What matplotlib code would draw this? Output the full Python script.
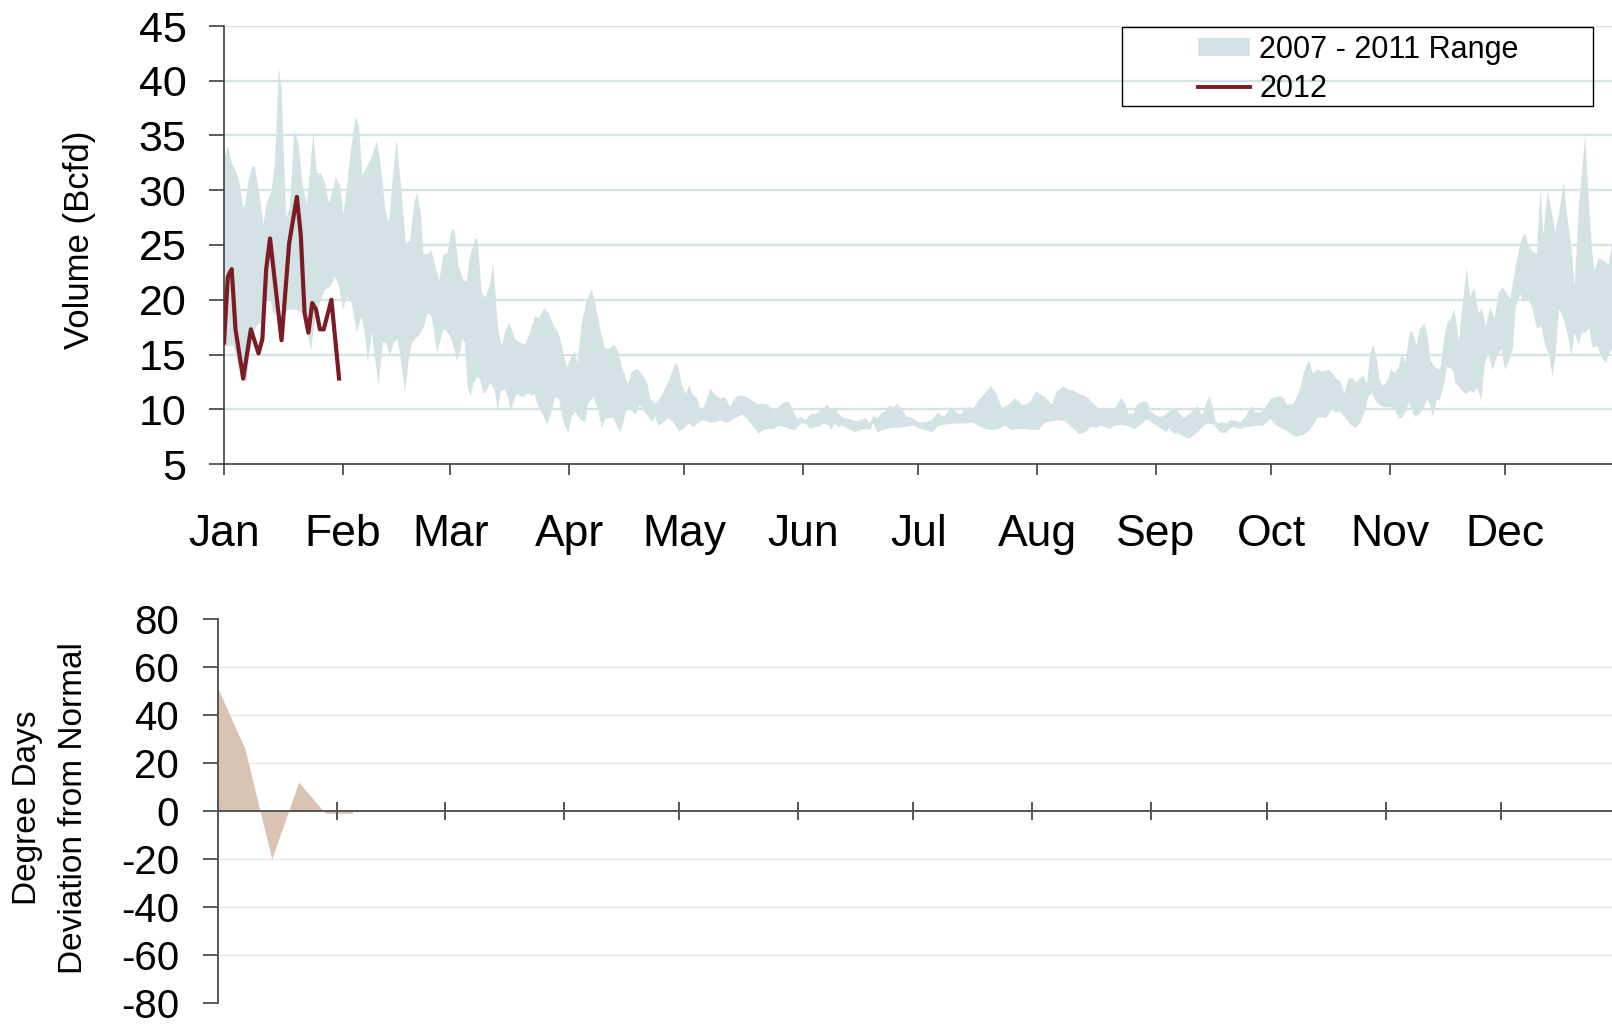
import numpy as np
import matplotlib.pyplot as plt
from matplotlib.patches import Patch, Rectangle
from matplotlib.lines import Line2D

plt.rcParams['font.family'] = ['Liberation Sans', 'DejaVu Sans']
plt.rcParams['axes.unicode_minus'] = False

months = ['Jan', 'Feb', 'Mar', 'Apr', 'May', 'Jun',
          'Jul', 'Aug', 'Sep', 'Oct', 'Nov', 'Dec']
month_start = [0, 31, 59, 90, 120, 151, 181, 212, 243, 273, 304, 334]

# 2007 - 2011 range, upper edge: (day of year, Bcfd)
range_high = np.array([
    (0, 33.0), (1.1, 34.0), (2.0, 32.5), (3.3, 31.6), (4.2, 30.4), (5.0, 28.4), (5.5, 28.7),
    (6.3, 30.7), (7.4, 32.2), (8.1, 32.1), (9.0, 30.1), (10.3, 26.9), (11.1, 28.8), (12.4, 29.9),
    (13.3, 32.5), (14.3, 41.2), (15.0, 39.4), (15.7, 32.2), (16.3, 27.5), (17.2, 28.4), (18.3, 35.5),
    (19.4, 34.3), (20.4, 30.7), (21.6, 28.7), (23.3, 35.2), (24.2, 31.6), (25.3, 31.5), (26.3, 30.7),
    (27.4, 28.8), (28.3, 29.9), (29.1, 31.2), (30.3, 30.4), (31.1, 27.8), (32.0, 30.1), (33.1, 33.7),
    (34.3, 36.7), (35.2, 35.8), (36.1, 31.3), (37.2, 32.1), (38.5, 33.0), (39.8, 34.5), (40.7, 32.8),
    (42.0, 28.4), (43.0, 27.0), (44.2, 31.9), (45.0, 34.6), (46.3, 29.9), (47.4, 25.1), (48.5, 25.4),
    (49.7, 29.0), (50.4, 29.8), (51.4, 27.6), (52.0, 24.1), (53.3, 24.2), (54.1, 24.5), (55.0, 23.2),
    (56.1, 21.7), (57.2, 24.1), (58.2, 24.2), (59.4, 26.4), (60.1, 26.4), (61.1, 23.2), (62.4, 21.8),
    (63.3, 21.7), (64.1, 23.9), (65.5, 25.6), (66.1, 25.5), (67.2, 20.6), (68.2, 20.2), (69.4, 21.5),
    (70.2, 23.3), (70.8, 20.3), (71.5, 17.3), (72.4, 15.8), (73.3, 17.1), (74.4, 17.9), (75.9, 16.4),
    (77.2, 16.1), (78.5, 15.9), (79.8, 17.0), (81.1, 18.5), (82.0, 18.3), (83.5, 19.2), (84.6, 18.8),
    (85.9, 17.7), (87.2, 17.0), (88.1, 15.8), (89.4, 13.8), (90.2, 14.5), (91.4, 15.3), (92.2, 14.2),
    (93.3, 17.9), (94.6, 20.0), (95.9, 20.9), (96.8, 19.7), (98.1, 17.3), (99.4, 15.5), (100.7, 15.6),
    (101.8, 15.9), (102.8, 15.3), (103.7, 13.9), (105.3, 12.3), (106.3, 13.4), (107.9, 13.7),
    (109.0, 13.2), (110.3, 12.5), (111.1, 11.0), (112.4, 10.5), (113.7, 11.0), (115.0, 11.9),
    (116.3, 12.9), (117.7, 14.2), (118.3, 14.0), (119.4, 12.2), (120.4, 11.4), (121.3, 12.2),
    (122.2, 11.3), (123.3, 11.0), (124.4, 9.8), (125.5, 10.5), (126.8, 11.9), (128.1, 11.3),
    (129.4, 11.0), (130.7, 11.1), (132.0, 10.2), (133.1, 11.0), (134.6, 11.3), (136.3, 11.1),
    (137.7, 10.8), (139.0, 10.5), (140.7, 10.5), (142.0, 10.4), (143.3, 9.8), (144.6, 10.2),
    (145.9, 10.6), (147.2, 10.7), (148.1, 10.1), (149.4, 9.1), (150.3, 9.3), (151.6, 9.0),
    (152.9, 9.5), (154.2, 9.6), (155.5, 9.9), (156.3, 10.1), (157.2, 10.4), (158.1, 10.1),
    (159.4, 10.1), (160.2, 9.6), (161.5, 9.2), (163.2, 9.1), (165.0, 8.9), (166.1, 9.0),
    (167.3, 9.2), (168.4, 8.7), (169.3, 9.4), (170.2, 9.2), (171.3, 9.6), (172.8, 9.9),
    (173.5, 10.4), (174.4, 10.1), (175.4, 10.5), (176.5, 10.1), (178.0, 9.3), (179.5, 9.2),
    (181.0, 8.8), (182.8, 8.8), (184.4, 9.0), (186.1, 9.7), (187.1, 9.4), (188.0, 9.4),
    (189.6, 10.2), (190.6, 9.8), (191.9, 9.5), (193.2, 10.0), (194.1, 10.2), (195.4, 10.1),
    (196.7, 10.8), (198.3, 11.4), (200.0, 12.1), (201.1, 11.6), (202.1, 10.8), (202.8, 10.1),
    (204.5, 10.4), (206.3, 11.0), (207.1, 10.8), (208.0, 10.4), (209.3, 10.5), (210.2, 10.7),
    (211.7, 11.6), (214.1, 11.1), (215.8, 10.4), (217.1, 11.6), (218.9, 12.1), (220.2, 11.8),
    (221.5, 11.7), (222.8, 11.4), (224.1, 11.3), (225.4, 11.0), (226.7, 10.5), (228.0, 10.1),
    (228.9, 9.9), (229.7, 10.0), (231.0, 9.9), (231.9, 9.9), (232.8, 10.4), (233.9, 11.0),
    (235.0, 10.5), (235.8, 9.6), (237.1, 9.6), (238.2, 10.5), (239.6, 10.7), (240.8, 10.7),
    (241.5, 9.8), (242.8, 9.5), (244.1, 9.3), (245.4, 9.5), (246.7, 9.9), (248.0, 10.1),
    (248.9, 9.7), (250.2, 9.2), (251.5, 9.5), (252.8, 9.9), (253.8, 10.3), (255.0, 9.4),
    (255.8, 10.2), (256.9, 11.2), (257.6, 10.4), (258.4, 9.0), (259.3, 8.7), (260.2, 8.8),
    (261.5, 8.7), (262.3, 9.0), (263.7, 9.0), (265.0, 8.8), (266.3, 9.3), (267.1, 9.8),
    (268.0, 10.3), (268.9, 9.7), (270.2, 9.7), (271.5, 10.2), (272.8, 10.9), (274.1, 11.1),
    (275.4, 11.2), (276.3, 11.0), (277.1, 10.4), (278.9, 10.5), (279.7, 11.1), (280.6, 11.9),
    (281.5, 13.3), (282.8, 14.5), (283.9, 13.3), (285.0, 13.6), (286.3, 13.4), (288.0, 13.6),
    (288.9, 13.3), (290.2, 12.7), (291.0, 12.6), (292.1, 11.4), (293.0, 12.7), (294.1, 12.9),
    (295.2, 12.4), (296.3, 12.9), (297.0, 13.1), (298.0, 12.3), (298.9, 15.2), (299.7, 15.9),
    (300.6, 14.5), (301.3, 12.7), (302.2, 12.1), (303.4, 12.7), (304.3, 13.7), (305.1, 13.3),
    (306.3, 13.8), (307.1, 15.2), (308.0, 14.2), (309.1, 17.0), (309.8, 17.1), (310.9, 15.8),
    (311.9, 17.4), (313.0, 17.8), (313.8, 16.7), (314.5, 14.5), (315.8, 13.8), (317.1, 13.6),
    (318.0, 16.1), (318.9, 17.9), (319.9, 18.3), (320.8, 19.2), (322.0, 16.2), (322.9, 19.4),
    (324.0, 22.9), (324.9, 20.3), (326.0, 21.1), (327.1, 18.8), (328.0, 19.2), (329.0, 17.6),
    (330.1, 19.3), (331.3, 18.3), (332.3, 20.6), (333.3, 21.1), (334.5, 20.6), (335.3, 20.0),
    (336.7, 22.9), (338.0, 25.2), (339.1, 26.1), (340.1, 25.0), (341.2, 24.4), (342.3, 24.2),
    (343.2, 30.2), (344.0, 25.9), (345.1, 30.0), (346.2, 27.9), (347.1, 26.2), (348.1, 27.9),
    (349.3, 30.8), (350.1, 27.9), (351.3, 24.8), (352.1, 21.1), (353.3, 28.8), (354.9, 35.0),
    (355.8, 29.1), (356.7, 24.4), (357.3, 22.6), (358.4, 23.8), (359.7, 23.6), (361.0, 23.2),
    (362.0, 25.5),
])

# 2007 - 2011 range, lower edge: (day of year, Bcfd)
range_low = np.array([
    (0, 15.7), (2.4, 15.8), (3.7, 14.2), (5.0, 12.8), (5.9, 12.5), (6.3, 14.0), (7.7, 17.0),
    (8.5, 17.6), (9.8, 17.9), (10.7, 20.0), (12.0, 20.0), (13.1, 18.5), (14.6, 19.7), (15.5, 18.5),
    (16.8, 19.1), (18.1, 19.1), (19.4, 19.0), (20.4, 18.8), (21.6, 17.3), (22.7, 15.4), (23.7, 18.2),
    (25.0, 19.7), (26.3, 20.9), (27.7, 21.2), (29.0, 22.1), (30.0, 21.2), (31.1, 19.1), (32.0, 20.3),
    (33.3, 19.7), (34.6, 17.0), (35.9, 18.5), (36.8, 16.7), (37.5, 14.3), (38.5, 17.0), (40.3, 12.2),
    (41.4, 16.1), (42.2, 16.1), (43.3, 14.9), (44.2, 16.1), (45.3, 16.4), (46.3, 14.0), (47.2, 11.6),
    (48.1, 14.3), (49.0, 16.1), (49.8, 16.4), (50.7, 16.7), (52.0, 17.4), (53.1, 18.8), (54.1, 18.5),
    (54.8, 17.0), (55.5, 15.2), (56.3, 16.1), (57.2, 17.3), (58.2, 17.1), (59.1, 16.5), (60.1, 15.5),
    (60.7, 14.4), (61.5, 15.2), (62.1, 16.4), (62.8, 16.1), (63.5, 12.1), (64.3, 11.2), (65.0, 12.4),
    (66.1, 13.0), (66.8, 12.7), (67.6, 11.4), (68.5, 11.7), (69.4, 12.4), (70.5, 11.8), (71.4, 10.0),
    (72.2, 11.7), (73.3, 11.8), (74.0, 11.2), (74.6, 10.0), (75.2, 10.3), (76.3, 11.4), (78.1, 11.1),
    (79.4, 11.5), (80.2, 11.2), (80.9, 11.4), (82.0, 10.2), (83.3, 9.4), (84.3, 8.6), (85.3, 9.7),
    (86.3, 11.1), (87.4, 10.9), (88.1, 9.4), (88.9, 8.5), (89.8, 7.9), (90.7, 9.4), (91.5, 9.8),
    (92.8, 9.1), (94.1, 8.8), (95.0, 10.6), (96.3, 11.1), (97.5, 10.0), (98.5, 8.3), (99.4, 9.1),
    (100.7, 9.2), (101.5, 9.2), (102.4, 8.5), (103.3, 7.9), (104.1, 8.8), (105.0, 10.1),
    (106.2, 9.9), (107.4, 9.5), (108.3, 10.4), (109.4, 9.9), (110.7, 9.3), (111.6, 8.8),
    (112.4, 9.3), (113.3, 8.5), (114.6, 8.8), (115.9, 9.2), (117.2, 8.8), (118.5, 8.0),
    (119.8, 8.2), (121.1, 8.7), (122.4, 8.4), (123.7, 8.8), (125.0, 9.0), (126.8, 8.8),
    (128.1, 8.8), (129.4, 9.0), (130.3, 8.8), (131.6, 8.8), (133.3, 9.2), (135.0, 9.5),
    (136.3, 9.2), (137.7, 8.5), (139.4, 7.8), (140.7, 8.1), (142.0, 8.2), (143.3, 8.2),
    (144.6, 8.5), (145.9, 8.4), (147.2, 8.2), (148.9, 8.1), (150.3, 8.7), (151.6, 8.7),
    (152.9, 8.2), (154.2, 8.4), (155.2, 8.4), (156.3, 8.7), (157.7, 8.5), (158.4, 8.1),
    (159.1, 8.7), (160.2, 8.4), (161.5, 8.5), (162.8, 8.2), (164.5, 7.9), (165.8, 8.1),
    (167.6, 8.2), (168.4, 8.1), (169.3, 8.7), (170.4, 7.9), (171.9, 8.1), (174.1, 8.3),
    (175.8, 8.3), (177.6, 8.4), (179.7, 8.5), (181.5, 8.2), (182.8, 8.1), (184.7, 7.9),
    (186.3, 8.5), (188.0, 8.6), (189.7, 8.7), (191.5, 8.7), (193.2, 8.7), (195.0, 8.8),
    (196.7, 8.5), (198.4, 8.2), (200.2, 8.1), (201.9, 8.2), (203.7, 8.5), (205.4, 8.1),
    (207.1, 8.2), (208.9, 8.2), (211.0, 8.1), (212.4, 8.1), (214.1, 8.8), (215.8, 8.9),
    (217.6, 9.0), (219.3, 8.9), (220.6, 8.5), (221.9, 8.1), (223.0, 7.7), (224.5, 7.9),
    (226.0, 8.4), (227.4, 8.3), (228.6, 8.5), (229.7, 8.4), (231.0, 8.2), (232.1, 8.5),
    (233.7, 8.6), (235.4, 8.5), (237.3, 8.2), (238.7, 8.5), (240.6, 9.1), (241.9, 8.8),
    (243.2, 8.5), (244.5, 8.2), (245.7, 7.9), (246.3, 8.3), (247.6, 7.8), (248.9, 7.8),
    (250.2, 7.5), (251.7, 7.3), (252.8, 7.6), (254.1, 8.0), (255.4, 8.5), (256.7, 8.7),
    (258.0, 8.6), (258.9, 8.2), (260.2, 7.8), (261.5, 7.9), (262.2, 8.2), (263.2, 8.4),
    (265.0, 8.2), (266.3, 8.4), (267.6, 8.4), (269.3, 8.5), (271.0, 8.5), (272.8, 9.1),
    (274.1, 8.6), (275.4, 8.3), (276.7, 8.1), (278.0, 7.8), (279.3, 7.5), (280.6, 7.6),
    (281.5, 7.7), (282.8, 8.0), (283.9, 8.5), (285.0, 9.2), (286.3, 9.3), (287.1, 9.2),
    (288.0, 9.5), (288.9, 10.1), (289.7, 9.7), (291.0, 9.8), (292.3, 9.2), (293.7, 8.6),
    (295.0, 8.3), (296.3, 8.8), (297.3, 9.7), (298.4, 11.2), (299.3, 11.5), (300.2, 10.8),
    (301.5, 10.3), (302.8, 10.2), (304.1, 10.2), (305.1, 10.1), (306.3, 9.2), (307.1, 9.2),
    (308.0, 9.7), (308.9, 10.6), (309.7, 10.0), (310.3, 9.3), (311.5, 9.5), (312.6, 10.0),
    (313.8, 10.9), (314.5, 10.3), (315.2, 9.3), (316.1, 10.8), (317.0, 10.9), (318.0, 12.1),
    (318.9, 13.9), (319.9, 13.7), (320.6, 13.4), (321.0, 12.4), (321.9, 12.1), (323.2, 11.5),
    (324.0, 11.4), (324.9, 11.7), (325.8, 11.5), (326.7, 12.0), (327.8, 10.8), (328.7, 14.2),
    (329.7, 15.0), (330.7, 13.6), (331.9, 14.8), (333.0, 15.5), (334.0, 13.6), (335.1, 14.5),
    (336.0, 15.5), (336.8, 19.4), (338.0, 20.5), (338.8, 19.8), (339.7, 20.2), (341.0, 19.4),
    (342.3, 17.4), (343.4, 17.6), (344.5, 15.8), (345.3, 15.2), (346.4, 13.0), (347.1, 14.8),
    (348.1, 19.2), (349.3, 18.2), (350.6, 16.4), (351.3, 14.8), (352.1, 17.0), (353.2, 15.9),
    (354.0, 17.0), (354.9, 17.0), (356.0, 17.4), (356.8, 15.6), (358.0, 15.8), (359.3, 14.7),
    (360.3, 14.2), (361.2, 15.2), (362.0, 15.5),
])

# 2012 daily volume
y2012_day = [0, 1, 2, 3, 5, 7, 9, 10, 11, 12, 15, 17, 19, 20, 21, 22, 23, 24, 25, 26, 28, 30]
y2012_bcfd = [16.1, 22.1, 22.8, 17.3, 12.8, 17.3, 15.1, 16.4, 22.8, 25.6, 16.3, 25.2,
              29.4, 26.0, 18.8, 17.0, 19.7, 19.1, 17.3, 17.3, 20.0, 12.8]

# weekly degree-day deviation from normal
dd_day = [0, 7, 14, 21, 28, 35]
dd_dev = [51, 26, -20, 12, -1, -1]

band_col = '#d3e2e4'
line_col = '#7b1b24'
dd_col = '#dbc3b4'
grid_col = '#d3e3e6'
axis_col = '#404040'

W, H = 1612, 1026
fig = plt.figure(figsize=(W / 100, H / 100), dpi=100)


def px_box(left, top, right, bottom):
    return [left / W, 1 - bottom / H, (right - left) / W, (bottom - top) / H]


# top panel: volume
ax = fig.add_axes(px_box(224, 26, 1624, 464))
ax.set_xlim(0, 365)
ax.set_ylim(5, 45)
for v in range(10, 50, 5):
    ax.axhline(v, color=grid_col, lw=1.7, zorder=0)

band_x = np.concatenate([range_high[:, 0], range_low[::-1, 0]])
band_y = np.concatenate([range_high[:, 1], range_low[::-1, 1]])
ax.fill(band_x, band_y, color=band_col, lw=0, zorder=1)
ax.plot(y2012_day, y2012_bcfd, color=line_col, lw=3.0, zorder=3)

for s in ['top', 'right']:
    ax.spines[s].set_visible(False)
for s in ['left', 'bottom']:
    ax.spines[s].set_color(axis_col)
    ax.spines[s].set_linewidth(1.2)
ax.set_yticks(range(5, 50, 5))
ax.set_xticks(month_start)
ax.set_xticklabels(months)
ax.tick_params(axis='y', length=11, width=1.2, color=axis_col, pad=16, labelsize=31)
ax.tick_params(axis='x', length=8, width=1.2, color=axis_col, pad=28, labelsize=32)

fig.text(80 / W, 1 - 240 / H, 'Volume (Bcfd)', rotation=90, fontsize=25,
         ha='center', va='center')

# legend
fig.patches.append(Rectangle((1122 / W, 1 - 106 / H), 471 / W, 79 / H,
                             transform=fig.transFigure, fill=False,
                             edgecolor='black', lw=1.0))
handles = [Patch(facecolor=band_col, edgecolor='none', label='2007 - 2011 Range'),
           Line2D([], [], color=line_col, lw=2.8, label='2012')]
fig.legend(handles=handles, loc='upper left', bbox_to_anchor=(1198 / W, 1 - 35 / H),
           frameon=False, fontsize=22, handlelength=1.7, handleheight=0.5,
           handletextpad=0.3, labelspacing=0.3, borderpad=0, borderaxespad=0)

# bottom panel: degree days
ax2 = fig.add_axes(px_box(218, 619, 1620, 1003))
ax2.set_xlim(0, 365)
ax2.set_ylim(-80, 80)
for v in [-60, -40, -20, 20, 40, 60]:
    ax2.axhline(v, color='#dde9eb', lw=0.9, zorder=0)
ax2.fill_between(dd_day, dd_dev, 0, color=dd_col, lw=0, zorder=1)

ax2.spines['top'].set_visible(False)
ax2.spines['right'].set_visible(False)
ax2.spines['bottom'].set_position(('data', 0))
for s in ['left', 'bottom']:
    ax2.spines[s].set_color('#555555')
    ax2.spines[s].set_linewidth(1.4)
ax2.set_yticks(range(-80, 100, 20))
ax2.set_xticks(month_start)
ax2.tick_params(axis='y', length=11, width=1.2, color=axis_col, pad=17, labelsize=29)
ax2.tick_params(axis='x', direction='inout', length=13, width=1.4, color='#555555',
                labelbottom=False)

fig.text(28 / W, 1 - 808 / H, 'Degree Days', rotation=90, fontsize=24,
         ha='center', va='center')
fig.text(74 / W, 1 - 808 / H, 'Deviation from Normal', rotation=90, fontsize=24,
         ha='center', va='center')

fig.savefig('out.png', dpi=100)
